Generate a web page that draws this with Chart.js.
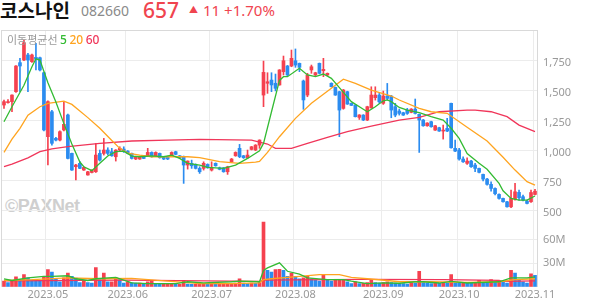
<!DOCTYPE html>
<html>
<head>
<meta charset="utf-8">
<script src="https://cdn.jsdelivr.net/npm/chart.js@4.4.0/dist/chart.umd.min.js"></script>
<style>
body { margin: 0; background: #fff; width: 594px; height: 304px; overflow: hidden; position: relative; font-family: "Noto Sans", "Noto Sans CJK KR", sans-serif; }
.hd { position: absolute; white-space: nowrap; line-height: 1; }
#name { left: 0; top: 0; font-family: "Noto Sans CJK KR"; font-weight: 700; font-size: 19px; color: #111; }
#code { left: 81px; top: 4px; font-size: 14px; color: #8a8a8a; }
#price { left: 143px; top: 0; font-size: 21px; color: #f0444f; font-weight: 500; }
#chg { left: 189px; top: 3px; font-size: 15px; color: #f0444f; }
#chg .tri { font-size: 9px; position: relative; top: -3px; margin-right: 5px; }
#ma { position: absolute; left: 7px; top: 34px; font-size: 11px; color: #9a9a9a; font-family: "Noto Sans CJK KR"; line-height: 1; }
#ma b { font-family: "Noto Sans"; font-weight: 500; font-size: 12px; }
#wm { position: absolute; left: 5px; top: 197px; font-size: 18px; font-weight: 700; color: #cfcfcf; font-family: "Liberation Sans", Arial, sans-serif; line-height: 1; letter-spacing: -0.5px; }
canvas { position: absolute; left: 0; }
#pc { top: 30px; }
#vc { top: 217px; }
</style>
</head>
<body>
<div class="hd" id="name">코스나인</div>
<div class="hd" id="code">082660</div>
<div class="hd" id="price">657</div>
<div class="hd" id="chg"><span class="tri">▲</span>11 +1.70%</div>
<div id="wm">©PAXNet</div>
<canvas id="pc" width="594" height="187"></canvas>
<canvas id="vc" width="594" height="85"></canvas>
<div id="ma">이동평균선 <b style="color:#33bb33">5</b> <b style="color:#ffa41f">20</b> <b style="color:#f0365a">60</b></div>
<script>
// daily candles, 2023.04.14 ~ 2023.11.01
const opens = [1375,1395,1403,1486,1728,1750,1792,1736,1772,1769,1644,1111,1319,1097,1083,1167,1292,972,861,889,
  833,792,813,819,972,972,1000,986,944,1000,1008,991,972,925,925,952,952,980,952,972,
  944,944,952,986,952,944,875,889,880,847,847,880,833,889,852,852,819,902,952,1014,
  952,936,1005,1000,1041,1458,1556,1583,1556,1542,1653,1700,1700,1744,1722,1575,1458,1667,1625,1722,
  1661,1625,1556,1522,1486,1347,1486,1389,1375,1272,1291,1250,1352,1436,1458,1389,1450,1450,1361,1325,
  1311,1333,1314,1341,1297,1250,1202,1236,1166,1186,1158,1180,1389,1014,1000,925,889,908,875,847,
  797,758,714,680,630,597,569,527,591,647,611,575,569,630];
const highs = [1417,1420,1460,1703,1764,1917,1806,1800,1889,1775,1650,1410,1330,1105,1160,1403,1300,975,880,903,
  860,822,836,1055,1000,1097,1019,1014,1003,1027,1027,995,975,948,950,955,1014,985,985,975,
  948,948,985,990,955,950,910,916,885,861,902,885,902,893,858,855,865,930,985,1047,
  955,1000,1030,1045,1085,1741,1644,1644,1633,1670,1783,1705,1833,1842,1725,1583,1639,1708,1648,1725,
  1764,1642,1560,1525,1490,1505,1490,1392,1378,1295,1295,1365,1527,1527,1472,1491,1555,1455,1389,1341,
  1315,1347,1345,1425,1300,1255,1228,1240,1205,1190,1208,1264,1392,1083,1014,944,936,915,890,850,
  800,764,736,685,635,600,572,666,722,666,625,583,666,672];
const lows = [1347,1390,1319,1480,1486,1745,1486,1730,1667,1660,1160,875,1040,1075,1075,1160,925,830,750,845,
  830,790,810,813,908,958,960,948,908,995,980,968,925,920,922,928,948,940,948,932,
  920,920,948,960,932,722,841,847,842,805,833,848,825,865,835,815,797,898,948,936,
  930,930,1000,995,1014,1361,1472,1486,1492,1540,1625,1620,1694,1689,1653,1339,1444,1639,1620,1635,
  1611,1620,1525,1455,1111,1340,1380,1370,1275,1255,1245,1245,1347,1416,1389,1380,1416,1269,1277,1291,
  1288,1297,1310,1300,980,1198,1198,1190,1163,1155,1091,1152,1015,986,916,897,880,855,820,810,
  742,708,658,625,590,565,523,519,583,583,575,550,563,625];
const closes = [1403,1403,1458,1700,1700,1894,1750,1792,1756,1667,1167,1403,1056,1083,1153,1214,930,833,875,847,
  855,819,833,958,916,1000,972,952,1000,1014,986,972,930,944,944,930,980,944,980,936,
  925,925,980,964,936,875,908,869,847,819,889,852,852,869,839,819,861,925,980,944,
  936,958,1027,1041,1083,1647,1569,1542,1514,1667,1744,1625,1764,1708,1689,1417,1625,1694,1644,1639,
  1672,1639,1528,1458,1333,1500,1383,1372,1278,1292,1250,1361,1458,1458,1402,1450,1430,1333,1291,1305,
  1291,1305,1341,1305,1250,1202,1225,1194,1202,1158,1166,1158,1019,991,925,902,908,861,847,814,
  758,714,680,636,597,569,527,597,652,602,583,555,646,657];
// volume, millions of shares
const volumes = [7.3,5.2,8.1,12.6,9,15.4,11.4,9,8.6,8,13.3,22,18.6,10.2,6.4,11.4,17.5,13.3,11,5.2,
  7.3,5.2,4.8,24.4,9.2,17.5,6.4,6.4,11.4,9.2,4.8,6.4,5.2,4.8,4.8,4,6.4,7.3,4,3.6,
  3.6,3.6,4,3.2,3.2,8.1,3.6,3.2,3.2,3.2,3.6,3.2,3.6,3.2,3.2,3.2,3.6,4.4,4.8,10.2,
  4.8,4,4.8,4.4,5.2,82,20.8,18.6,21.9,22.3,20.8,13.3,17.5,13.3,10.2,11.4,13.3,10.2,8.1,7.3,
  15.4,9.2,7.3,9.2,9.2,9.6,6.4,4,6.4,4,4.4,5.2,9.2,5.2,4.8,5.2,6.4,5.2,4.8,4.4,
  4,3.6,5.2,4.8,19.7,5.2,4.8,4,5.6,4.8,5.2,4.8,15.4,4.8,4.4,5.2,4.8,4.4,5.2,8.1,
  5.2,4.8,9.2,6.4,6.4,5.6,4.8,20.8,17.5,9.2,6.4,4.8,16.5,14.5];

// moving average lines: [day index, value]
const ma5Pts = [[0,1236],[2,1361],[5,1540],[7,1694],[8,1760],[9,1750],[11,1560],[13,1400],[15,1220],[17,1050],
  [19,900],[20,861],[22,828],[24,889],[26,950],[28,986],[30,990],[32,950],[34,944],[37,952],[40,944],[42,958],
  [44,930],[46,889],[49,875],[51,855],[55,847],[58,875],[61,930],[64,994],[65,1055],[67,1319],[69,1580],[70,1611],
  [71,1611],[74,1681],[76,1625],[78,1611],[80,1633],[82,1597],[84,1520],[87,1403],[90,1340],[91,1319],[93,1361],
  [95,1410],[96,1417],[97,1403],[99,1355],[101,1333],[104,1311],[107,1278],[110,1250],[112,1181],[114,1097],
  [116,970],[119,889],[121,840],[124,722],[125,660],[127,597],[129,583],[131,583],[133,617]];
const ma20Pts = [[0,980],[2,1090],[4,1181],[6,1290],[9,1361],[11,1389],[15,1408],[17,1380],[21,1270],[24,1181],
  [27,1080],[29,1014],[31,975],[34,958],[37,944],[46,944],[49,936],[54,903],[59,889],[63,900],[64,905],[66,980],
  [69,1111],[73,1264],[77,1389],[82,1514],[85,1590],[88,1556],[92,1500],[97,1450],[99,1417],[104,1347],[107,1319],
  [111,1306],[116,1190],[121,1075],[125,940],[128,833],[131,736],[133,708]];
const ma60Pts = [[0,861],[2,883],[6,935],[9,986],[12,1010],[16,1028],[24,1055],[32,1075],[41,1083],[49,1089],
  [62,1083],[66,1050],[68,1014],[72,1014],[76,1055],[81,1105],[86,1153],[92,1200],[99,1250],[104,1272],[109,1319],
  [116,1333],[118,1333],[122,1319],[126,1278],[129,1208],[133,1153]];
const volMa5Pts = [[0,10],[2,8],[6,11.4],[10,13.3],[12,13.3],[16,14],[18,10.2],[21,8],[23,10.2],[28,12],[32,5],
  [36,4],[43,4],[46,6.4],[50,5],[57,6.4],[59,7.3],[64,6.4],[65,20.8],[66,24],[69,30.4],[71,19.7],[74,16],[76,11.4],
  [81,9.2],[85,9.2],[87,7.3],[91,4],[95,5],[99,4.5],[103,6.4],[105,6.4],[109,4.8],[112,7],[116,4.8],[124,6.4],
  [127,11.4],[131,11.4],[133,12.6]];
const volMa20Pts = [[0,8],[7,9],[16,11.4],[24,10.2],[32,10.6],[41,7.3],[49,4],[57,4],[64,5],[65,9],[67,10.2],
  [74,13.3],[79,15.4],[84,15.4],[87,12],[91,10.2],[96,8],[99,6.4],[107,6.4],[116,5.5],[124,6.4],[128,9.2],[133,10.2]];
const volMa60Pts = [[0,7.5],[30,8.5],[64,7],[65,8.4],[90,9.5],[110,9.2],[124,8.2],[125,7],[133,7.5]];

const monthIdx = [11, 31, 52, 73, 95, 114, 133];
const monthLabels = ['2023.05', '2023.06', '2023.07', '2023.08', '2023.09', '2023.10', '2023.11'];
const priceTicks = [500, 750, 1000, 1250, 1500, 1750];
const volTicks = [30, 60];

const UP = '#f5414f', DOWN = '#2b8cf0';
const GREEN = '#33bb33', ORANGE = '#ffa41f', PINK = '#f0365a';
const GRID = '#ececec';

const N = closes.length;
const cats = closes.map((_, i) => String(i));
const candleCol = closes.map((c, i) => c >= opens[i] ? UP : DOWN);
const volCol = volumes.map((v, i) => (i === 0 || v >= volumes[i - 1]) ? UP : DOWN);

// spread [index, value] pairs onto the category axis
function sparse(pts) {
    const a = new Array(N).fill(null);
    pts.forEach(([i, v]) => a[i] = v);
    return a;
}
function maLine(pts, color) {
    return { type: 'line', data: sparse(pts), borderColor: color, borderWidth: 1.3, pointRadius: 0, spanGaps: true, order: 0 };
}

const monthGrid = ctx => monthIdx.includes(ctx.index) ? GRID : 'rgba(0,0,0,0)';

// light frame on the plot's top / left sides
const frame = {
    id: 'frame',
    beforeDatasetsDraw(chart, args, opts) {
        const { ctx, chartArea: a } = chart;
        ctx.save();
        ctx.strokeStyle = '#d9d9d9';
        ctx.lineWidth = 1;
        ctx.beginPath();
        if (opts.top) { ctx.moveTo(a.left, a.top + 0.5); ctx.lineTo(a.right, a.top + 0.5); }
        ctx.moveTo(a.left - 0.5, a.top); ctx.lineTo(a.left - 0.5, a.bottom);
        ctx.stroke();
        ctx.restore();
    }
};

function xAxis(showLabels, borderColor) {
    return {
        offset: true,
        grid: { offset: true, drawTicks: false, color: monthGrid },
        border: { color: borderColor },
        ticks: {
            display: showLabels, autoSkip: false, maxRotation: 0, minRotation: 0, padding: 1,
            color: '#999', font: { family: 'Noto Sans', size: 11 },
            callback: (v, i) => { const k = monthIdx.indexOf(i); return k >= 0 ? monthLabels[k] : ''; }
        },
        afterFit: s => { s.paddingLeft = 0; s.paddingRight = 0; }
    };
}
function yAxis(min, max, ticks, fmt, labelOffset) {
    return {
        position: 'right', min: min, max: max,
        grid: { color: GRID, drawTicks: false },
        border: { color: '#d9d9d9' },
        afterBuildTicks: s => { s.ticks = ticks.map(v => ({ value: v })); },
        afterFit: s => { s.width = 57; s.paddingTop = 0; s.paddingBottom = 0; },
        ticks: { padding: 6, labelOffset: labelOffset, color: '#999', font: { family: 'Noto Sans', size: 11 }, callback: fmt }
    };
}

const common = {
    responsive: false,
    animation: false,
    layout: { autoPadding: false, padding: { left: 2, right: 0, top: 0, bottom: 0 } },
    plugins: { legend: { display: false }, tooltip: { enabled: false } }
};

// Price panel: wick + body as floating bars, MA lines on top
new Chart(document.getElementById('pc'), {
    type: 'bar',
    data: {
        labels: cats,
        datasets: [
            maLine(ma5Pts, GREEN), maLine(ma20Pts, ORANGE), maLine(ma60Pts, PINK),
            { data: lows.map((l, i) => [l, highs[i]]), backgroundColor: candleCol, barThickness: 1, grouped: false, order: 2 },
            { data: opens.map((o, i) => [o, closes[i]]), backgroundColor: candleCol, barThickness: 3, minBarLength: 1, grouped: false, order: 1 }
        ]
    },
    options: Object.assign({}, common, {
        scales: {
            x: xAxis(false, '#333'),
            y: yAxis(442, 2000, priceTicks, v => v.toLocaleString('en-US'), 3)
        },
        plugins: Object.assign({}, common.plugins, { frame: { top: true } })
    }),
    plugins: [frame]
});

// Volume panel
new Chart(document.getElementById('vc'), {
    type: 'bar',
    data: {
        labels: cats,
        datasets: [
            maLine(volMa5Pts, GREEN), maLine(volMa20Pts, ORANGE), maLine(volMa60Pts, PINK),
            { data: volumes, backgroundColor: volCol, barThickness: 3, grouped: false, order: 1 }
        ]
    },
    options: Object.assign({}, common, {
        scales: {
            x: xAxis(true, '#e4e4e4'),
            y: yAxis(0, 88.6, volTicks, v => v + 'M', 0)
        },
        plugins: Object.assign({}, common.plugins, { frame: { top: false } })
    }),
    plugins: [frame]
});
</script>
</body>
</html>
